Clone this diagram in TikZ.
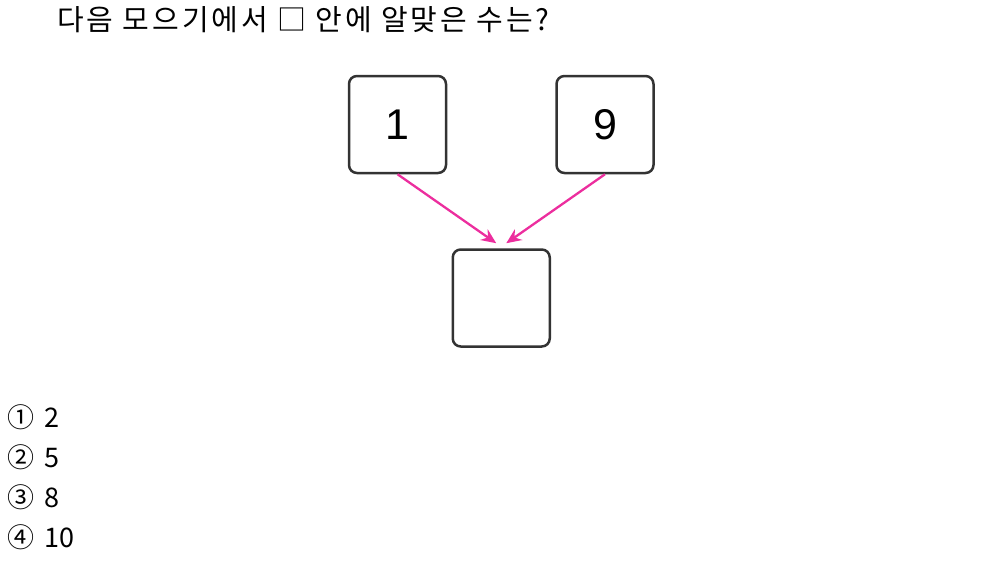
\documentclass[tikz,border=0pt]{standalone}
\usepackage{fontspec}
\setmainfont{Noto Sans CJK KR}
\newfontfamily\digitfont{Liberation Sans}
\usetikzlibrary{positioning,arrows.meta,calc}
\definecolor{boxline}{HTML}{333333}
\definecolor{arrowpink}{HTML}{EC2E9E}
\begin{document}
\begin{tikzpicture}[x=1pt,y=-1pt]
		\tikzstyle{numbox} =[draw=boxline, line width=2.5pt, rounded corners=8pt, minimum size=97pt, inner sep=0pt, font=\digitfont\fontsize{43}{43}\selectfont];
		\tikzstyle{choice} =[anchor=base west, inner sep=0pt, font=\fontsize{27}{30}\selectfont];
		\tikzstyle{pinkarrow} =[arrowpink, line width=2.3pt, -{Stealth[length=15pt,width=13pt]}];
		\useasboundingbox (0,0) rectangle (999,570);
		\node[anchor=base west, inner sep=0pt, font=\fontsize{29}{32}\selectfont\addfontfeatures{LetterSpace=10}] (title) at (57,30) {다음 모으기에서 □ 안에 알맞은 수는?};
		\node[numbox] (one) at (397.5,124.5) {1};
		\node[numbox, right=108pt of one] (nine) {9};
		\coordinate (mid) at ($(one.south)!0.5!(nine.south)$);
		\node[numbox, below=74pt of mid] (sum) {};
		
		\draw[pinkarrow] (one.south) -- ([xshift=-5pt,yshift=5pt]sum.north);
		\draw[pinkarrow] (nine.south) -- ([xshift=5pt,yshift=5pt]sum.north);
		
		\node[choice] (c1) at (7,427) {①};
		\node[choice] (a1) at (44,427) {2};
		\node[choice, below=40pt of c1.base west, anchor=base west] (c2) {②};
		\node[choice] (a2) at (c2.base west -| a1.base west) {5};
		\node[choice, below=40pt of c2.base west, anchor=base west] (c3) {③};
		\node[choice] (a3) at (c3.base west -| a1.base west) {8};
		\node[choice, below=40pt of c3.base west, anchor=base west] (c4) {④};
		\node[choice] (a4) at (c4.base west -| a1.base west) {10};
	\end{tikzpicture}
\end{document}
